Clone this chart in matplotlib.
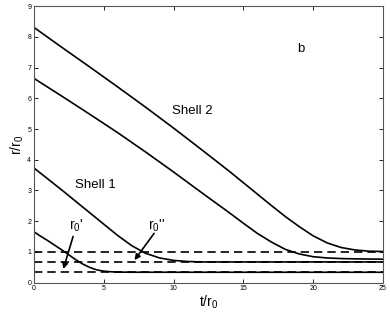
import matplotlib
matplotlib.use("Agg")
import matplotlib.pyplot as plt

plt.rcParams['font.family'] = ['Liberation Sans', 'DejaVu Sans']
plt.rcParams['mathtext.fontset'] = 'custom'
plt.rcParams['mathtext.rm'] = 'Liberation Sans'
plt.rcParams['mathtext.it'] = 'Liberation Sans'

# Shell 2 outer curve
t_a = [0, 2, 4, 6, 8, 10, 12, 14, 16, 17, 18, 19, 20, 21, 22, 23, 24, 25]
r_a = [8.31, 7.66, 7.02, 6.37, 5.71, 5.03, 4.33, 3.62, 2.88, 2.51, 2.15, 1.82, 1.52, 1.29, 1.14, 1.06, 1.02, 1.01]
# Shell 2 inner curve
t_b = [0, 2, 4, 6, 8, 10, 12, 13, 14, 15, 16, 17, 18, 19, 20, 21, 22, 23, 25]
r_b = [6.65, 6.07, 5.48, 4.88, 4.25, 3.60, 2.93, 2.60, 2.27, 1.93, 1.60, 1.32, 1.08, 0.93, 0.84, 0.80, 0.78, 0.77, 0.76]
# Shell 1 outer curve
t_c = [0, 1, 2, 3, 4, 5, 6, 7, 8, 9, 10, 11, 12, 25]
r_c = [3.73, 3.37, 3.01, 2.64, 2.27, 1.90, 1.53, 1.20, 0.95, 0.80, 0.72, 0.685, 0.67, 0.67]
# Shell 1 inner curve
t_d = [0, 0.5, 1, 1.5, 2, 2.5, 3, 3.5, 4, 4.5, 5, 5.5, 6, 7, 25]
r_d = [1.65, 1.50, 1.36, 1.21, 1.06, 0.90, 0.74, 0.60, 0.49, 0.41, 0.37, 0.35, 0.34, 0.335, 0.333]
# dashed reference levels
levels = [1.0, 0.667, 0.333]

fig = plt.figure(figsize=(3.9, 3.14), dpi=100)
ax = fig.add_axes([0.0872, 0.1003, 0.8949, 0.8797])

lw = 1.2
for t, r in [(t_a, r_a), (t_b, r_b), (t_c, r_c), (t_d, r_d)]:
    ax.plot(t, r, color='black', lw=lw)
for lv in levels:
    ax.axhline(lv, color='black', lw=lw, ls=(0, (5, 3)))

ax.set_xlim(0, 25)
ax.set_ylim(0, 9)
ax.set_xticks([0, 5, 10, 15, 20, 25])
ax.set_yticks(range(10))
ax.tick_params(direction='in', top=True, right=True, labelsize=5, length=3, width=0.6, pad=2)
for s in ax.spines.values():
    s.set_linewidth(0.8)
    s.set_color('#555555')

ax.set_xlabel('t/r$_0$', fontsize=10, labelpad=1)
ax.set_ylabel('r/r$_0$', fontsize=10, labelpad=1)

ax.text(9.85, 5.59, 'Shell 2', fontsize=9.5, va='center', ha='left')
ax.text(2.93, 3.18, 'Shell 1', fontsize=9.5, va='center', ha='left')
ax.text(19.1, 7.6, 'b', fontsize=9.5, va='center', ha='center')

ax.text(2.5, 1.85, "r$_0$'", fontsize=10, ha='left', va='center')
ax.text(8.2, 1.85, "r$_0$''", fontsize=10, ha='left', va='center')
ax.annotate('', xy=(2.1, 0.44), xytext=(2.8, 1.5),
            arrowprops=dict(arrowstyle='-|>', color='black', lw=1.2,
                            mutation_scale=8, shrinkA=0, shrinkB=0))
ax.annotate('', xy=(7.2, 0.73), xytext=(8.6, 1.6),
            arrowprops=dict(arrowstyle='-|>', color='black', lw=1.2,
                            mutation_scale=8, shrinkA=0, shrinkB=0))

fig.savefig('out.png', dpi=100)
